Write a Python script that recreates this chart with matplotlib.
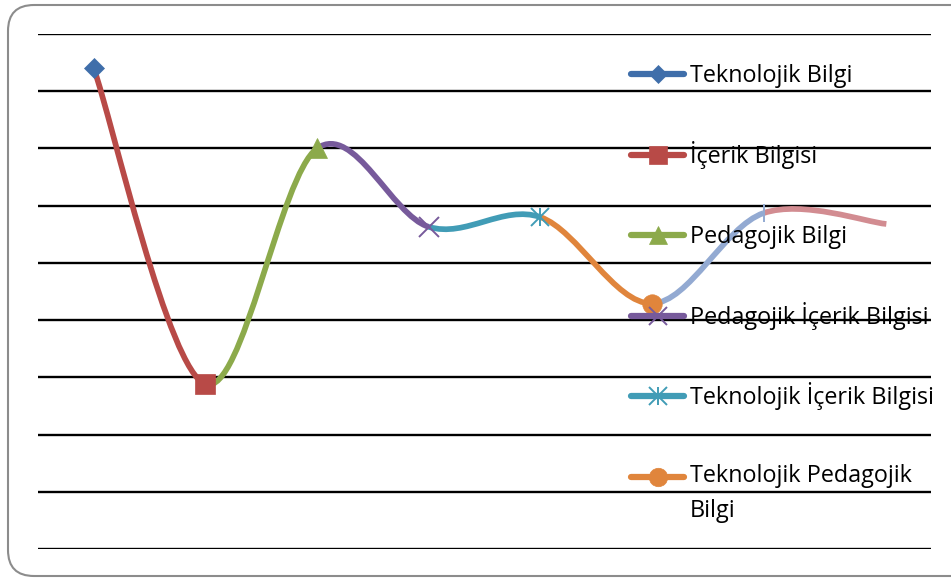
import numpy as np
import matplotlib
matplotlib.use("Agg")
import matplotlib.pyplot as plt
from matplotlib.path import Path
from matplotlib.patches import PathPatch, FancyBboxPatch
from matplotlib.lines import Line2D

# series in the order they are chained along the curve
series_names = ["Teknolojik Bilgi", "İçerik Bilgisi", "Pedagojik Bilgi",
                "Pedagojik İçerik Bilgisi", "Teknolojik İçerik Bilgisi",
                "Teknolojik Pedagojik\nBilgi"]
positions = [1, 2, 3, 4, 5, 6, 7, 8.1]
values = [8.40, 2.88, 7.00, 5.63, 5.80, 4.29, 5.87, 5.68]
colors = ["#3F6EAA", "#B84A47", "#8CAA4B", "#775A9B",
          "#419CB6", "#E0853C", "#93AAD2", "#D28C91"]
marker_shapes = [["D"], ["s"], ["^"], ["x"], ["x", "|"], ["o"], ["|"], []]
marker_sizes = [10, 14, 14, 14, 13, 14, 13, 0]

W, H = 951, 579
fig = plt.figure(figsize=(W / 100, H / 100), dpi=100)

ax = fig.add_axes([38 / W, (H - 549) / H, (931 - 38) / W, (549 - 34) / H])
ax.set_xlim(0.5, 8.5)
ax.set_ylim(0, 9)
ax.set_yticks(range(10))
ax.set_xticks([])
ax.yaxis.grid(True, color="black", lw=1.7)
ax.tick_params(length=0, labelleft=False)
for s in ax.spines.values():
    s.set_visible(False)
ax.set_axisbelow(True)


def draw_marker(axis, x, y, k, scale=1.0, z=5):
    for m in marker_shapes[k]:
        thin = m in ("x", "|")
        axis.plot([x], [y], marker=m, ms=marker_sizes[k] * scale,
                  color=colors[k], mec=colors[k], mew=1.4 if thin else 0.5,
                  ls="none", zorder=z, clip_on=False)


# smoothed curve, one bezier segment per series
pts = np.column_stack([positions, values])
n = len(pts)
for i in range(n - 1):
    prev = pts[max(i - 1, 0)]
    nxt = pts[min(i + 2, n - 1)]
    c1 = pts[i] + (pts[i + 1] - prev) / 6
    c2 = pts[i + 1] - (nxt - pts[i]) / 6
    path = Path([pts[i], c1, c2, pts[i + 1]],
                [Path.MOVETO, Path.CURVE4, Path.CURVE4, Path.CURVE4])
    ax.add_patch(PathPatch(path, fill=False, edgecolor=colors[i + 1],
                           lw=4.1, capstyle="butt", joinstyle="round",
                           zorder=3))

for k in range(n):
    draw_marker(ax, positions[k], values[k], k)

# overlay in pixel units for the frame and the legend
ov = fig.add_axes([0, 0, 1, 1], facecolor="none")
ov.set_xlim(0, W)
ov.set_ylim(H, 0)
ov.axis("off")
ov.add_patch(FancyBboxPatch((8, 5), 990, 571,
                            boxstyle="round,pad=0,rounding_size=26",
                            fill=False, edgecolor="#8C8C8C", lw=1.5))

line_gap = 32
for k, name in enumerate(series_names):
    y = 74 + 80.6 * k
    ov.add_line(Line2D([631, 684], [y, y], color=colors[k], lw=4.5,
                       solid_capstyle="round", zorder=6))
    draw_marker(ov, 657.5, y, k, scale=0.95, z=7)
    # baseline of a wrapped label sits on its last line
    ov.text(690, y + 8 + line_gap * name.count("\n"), name, fontsize=16.8,
            family="Open Sans", va="baseline", ha="left", color="black",
            linespacing=1.6, zorder=8)

fig.savefig("out.png", dpi=100)
